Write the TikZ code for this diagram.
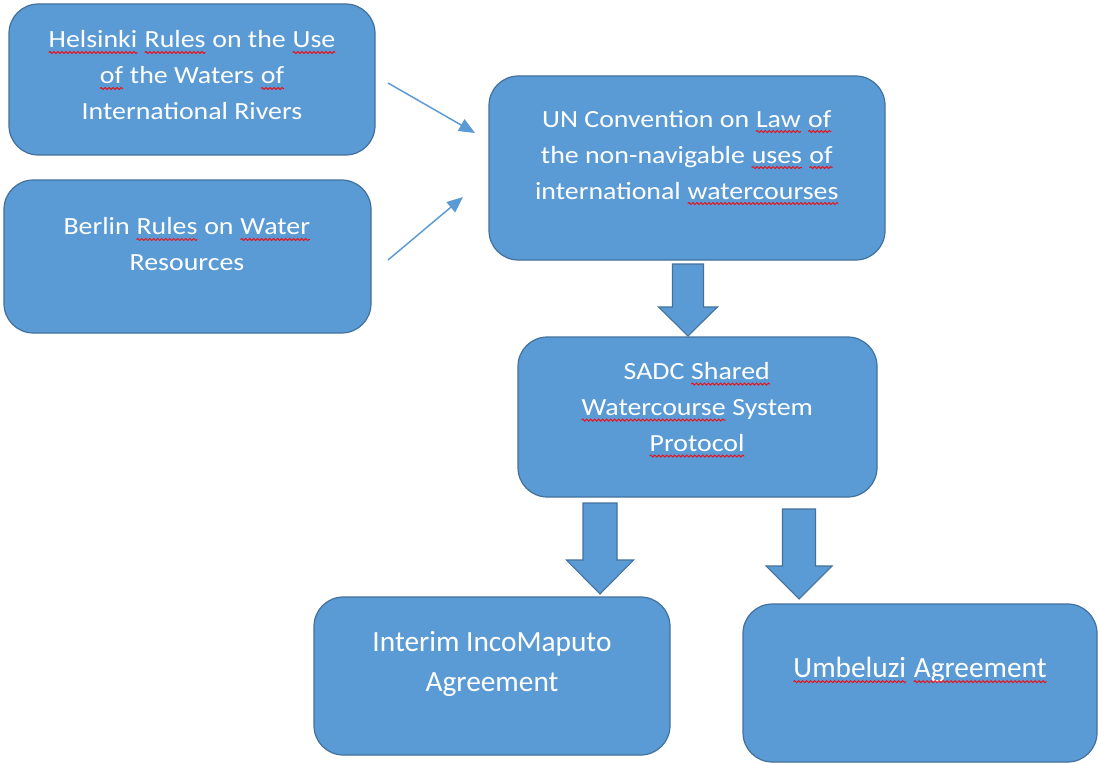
\documentclass[tikz,border=0pt]{standalone}
\usepackage{fontspec}
\usetikzlibrary{calc,arrows.meta,decorations.pathmorphing}
\newfontfamily\topfont[FakeStretch=1.13]{Carlito}
\newfontfamily\botfont{Carlito}
\definecolor{boxfill}{HTML}{5B9BD5}
\definecolor{boxline}{HTML}{41719C}
\definecolor{sqred}{HTML}{E8141B}
\newcommand\sq[1]{\tikz[baseline=(w.base)]{\node[inner sep=0pt, outer sep=0pt] (w) {#1};
 \draw[sqred, line width=0.75pt, decorate, decoration={snake, amplitude=0.75pt, segment length=3pt}] ([yshift=-3.4pt]w.base west) -- ([yshift=-3.4pt]w.base east);}}
\newcommand\blockdown[5]{\draw[barrow] ($(#1)+(-#3,0)$) -- ($(#1)+(#3,0)$) -- ($(#2)+(#3,-#5)$) -- ($(#2)+(#4,-#5)$) -- (#2) -- ($(#2)+(-#4,-#5)$) -- ($(#2)+(-#3,-#5)$) -- cycle;}
\tikzset{
 box/.style={draw=boxline, fill=boxfill, line width=0.9pt, rounded corners=22pt, inner sep=0pt},
 lbltop/.style={text=white, align=center, font=\topfont\fontsize{18.5}{27}\selectfont, inner sep=0pt},
 lblbot/.style={text=white, align=center, font=\botfont\fontsize{22}{30}\selectfont, inner sep=0pt},
 thinarrow/.style={draw=boxfill, line width=1.1pt, -{Triangle[length=12pt,width=10pt]}},
 barrow/.style={draw=boxline, fill=boxfill, line width=0.8pt, line join=miter},
}
\begin{document}
\begin{tikzpicture}[x=0.75pt,y=-0.75pt]
\fill[white] (0,0) rectangle (1098,763);
\useasboundingbox (0,0) rectangle (1098,763);
% boxes
\node[box, minimum width=274.5pt, minimum height=113.25pt] (hel) at (192,79.5) {};
\node[box, minimum width=275.25pt, minimum height=114.75pt] (ber) at (187.5,256.5) {};
\node[box, minimum width=297pt, minimum height=138pt] (un) at (687,168) {};
\node[box, minimum width=269.25pt, minimum height=120pt] (sadc) at (697.5,417) {};
\node[box, minimum width=267pt, minimum height=118.5pt] (int) at (492,676) {};
\node[box, minimum width=265.5pt, minimum height=118.5pt] (umb) at (920,683) {};
% labels
\node[lbltop] (helt) at (192,75.5) {\sq{Helsinki} \sq{Rules} on the \sq{Use}\\ \sq{of} the Waters \sq{of}\\ International Rivers};
\node[lbltop] (bert) at (187,244.5) {Berlin \sq{Rules} on \sq{Water}\\ Resources};
\node[lbltop] (unt) at (687,157.5) {UN Convention on \sq{Law} \sq{of}\\ the non-navigable \sq{uses} \sq{of}\\ international \sq{watercourses}};
\node[lbltop] (sadct) at (697,410) {SADC \sq{Shared}\\ \sq{Watercourse} System\\ \sq{Protocol}};
\node[lblbot] (intt) at (492,664) {Interim IncoMaputo\\ Agreement};
\node[lblbot] (umbt) at (920,670) {\sq{Umbeluzi} \sq{Agreement}};
% thin arrows
\coordinate (h1s) at (388,83);
\coordinate (h1e) at (475,133);
\coordinate (b1s) at (388,260);
\coordinate (b1e) at (463,197);
\draw[thinarrow] (h1s) -- (h1e);
\draw[thinarrow] (b1s) -- (b1e);
% block arrows
\coordinate (a1s) at (688,264);
\coordinate (a1e) at (688,336);
\coordinate (a2s) at (600,503);
\coordinate (a2e) at (600,594);
\coordinate (a3s) at (799,509);
\coordinate (a3e) at (799,599);
\blockdown{a1s}{a1e}{15.5}{29.5}{29}
\blockdown{a2s}{a2e}{17}{33.5}{34}
\blockdown{a3s}{a3e}{16.5}{33}{33}
\end{tikzpicture}
\end{document}
